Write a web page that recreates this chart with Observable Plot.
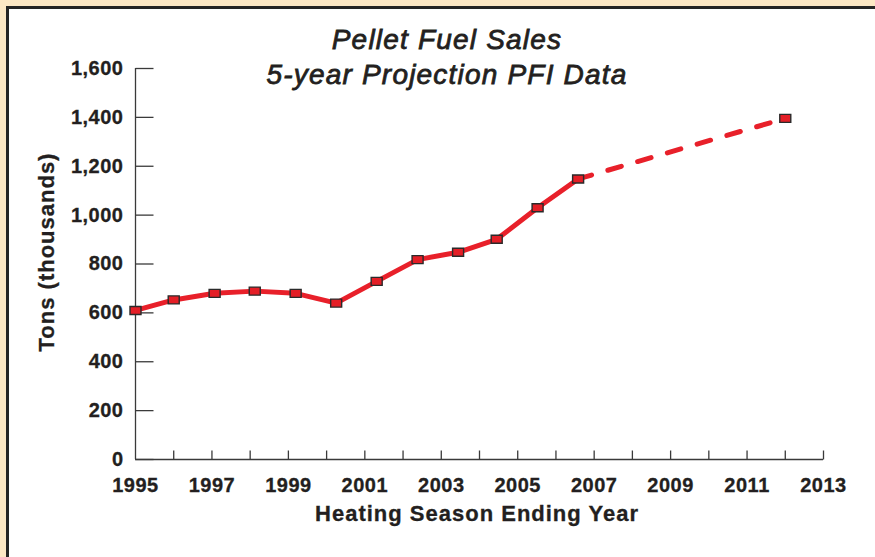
<!DOCTYPE html>
<html>
<head>
<meta charset="utf-8">
<script src="https://cdn.jsdelivr.net/npm/d3@7"></script>
<script src="https://cdn.jsdelivr.net/npm/@observablehq/plot@0.6"></script>
<style>
  html, body { margin: 0; padding: 0; }
  body { width: 875px; height: 557px; overflow: hidden; position: relative; background: #fde8c5; font-family: "Liberation Sans", Arial, sans-serif; }
  #panel { position: absolute; left: 6px; top: 6px; width: 900px; height: 600px; background: #fff; border-left: 3px solid #252525; border-top: 3px solid #252525; }
  #chart { position: absolute; left: 0; top: 0; }
  #chart svg text { font-size: 20px; letter-spacing: 0.5px; stroke: #231f20; stroke-width: 0.3px; }
  .title { position: absolute; left: 0; width: 894px; text-align: center; font-style: italic; font-size: 28px; letter-spacing: 1.2px; color: #231f20; -webkit-text-stroke: 0.8px #231f20; white-space: nowrap; }
  #ytitle { position: absolute; left: 47px; top: 252px; transform: translate(-50%, -50%) rotate(-90deg); font-size: 22px; font-weight: bold; letter-spacing: 1px; color: #231f20; -webkit-text-stroke: 0.3px #231f20; white-space: nowrap; line-height: 1; }
  #xtitle { position: absolute; left: 0; width: 954px; top: 503px; text-align: center; font-size: 22px; font-weight: bold; letter-spacing: 1px; color: #231f20; -webkit-text-stroke: 0.3px #231f20; white-space: nowrap; line-height: 1; }
</style>
</head>
<body>
<div id="panel"></div>
<div id="chart"></div>
<div class="title" style="top:24px">Pellet Fuel Sales</div>
<div class="title" style="top:59px">5-year Projection PFI Data</div>
<div id="ytitle"></div>
<div id="xtitle"></div>
<script>
const actualYears = [1995, 1996, 1997.07, 1998.12, 1999.19, 2000.25, 2001.31, 2002.38, 2003.44, 2004.45, 2005.52, 2006.58];
const actualTons  = [610, 653, 680, 689, 680, 640, 729, 818, 848, 901, 1030, 1148];
// Projection segment
const projYears = [2006.58, 2012];
const projTons  = [1148, 1396];
// Axis ticks
const xLabelYears = [1995, 1997, 1999, 2001, 2003, 2005, 2007, 2009, 2011, 2013];
const xTickYears  = [1996, 1997, 1998, 1999, 2000, 2001, 2002, 2003, 2004, 2005, 2006, 2007, 2008, 2009, 2010, 2011, 2012, 2013];
const yTickValues = [0, 200, 400, 600, 800, 1000, 1200, 1400, 1600];
const xTitle = "Heating Season Ending Year";
const yTitle = "Tons (thousands)";

document.getElementById("ytitle").textContent = yTitle;
document.getElementById("xtitle").textContent = xTitle;

const actual = actualYears.map((x, i) => ({x, y: actualTons[i]}));
const proj = projYears.map((x, i) => ({x, y: projTons[i]}));
const markerPts = actual.concat([proj[proj.length - 1]]);

const RED = "#e8202a";
const INK = "#231f20";
const AX = "#3a3a3a";

const rectSymbol = { draw(ctx) { ctx.moveTo(-5.5, -4); ctx.lineTo(5.5, -4); ctx.lineTo(5.5, 4); ctx.lineTo(-5.5, 4); ctx.closePath(); } };
const hTick = { draw(ctx) { ctx.moveTo(0, 0); ctx.lineTo(18, 0); } };
const vTick = { draw(ctx) { ctx.moveTo(0, 0); ctx.lineTo(0, -9); } };

const chart = Plot.plot({
  width: 875,
  height: 557,
  marginLeft: 135,
  marginRight: 52,
  marginTop: 68,
  marginBottom: 98,
  style: { background: "transparent", fontSize: "20px", fontWeight: "bold", fontFamily: "'Liberation Sans', Arial, sans-serif", color: INK, overflow: "visible" },
  x: { domain: [1995, 2013], ticks: xLabelYears, tickFormat: d => String(d), tickSize: 0, tickPadding: 18, label: null },
  y: { domain: [0, 1600], ticks: yTickValues, tickFormat: d3.format(","), tickSize: 0, tickPadding: 12, label: null },
  marks: [
    Plot.ruleY([0], { stroke: AX, strokeWidth: 1.3 }),
    Plot.ruleX([1995], { stroke: AX, strokeWidth: 1.3 }),
    Plot.dot(yTickValues, { x: () => 1995, y: d => d, symbol: hTick, stroke: AX, strokeWidth: 1.3, fill: "none" }),
    Plot.dot(xTickYears, { x: d => d, y: () => 0, symbol: vTick, stroke: AX, strokeWidth: 1.3, fill: "none" }),
    Plot.line(proj, { x: "x", y: "y", stroke: RED, strokeWidth: 5, strokeDasharray: "14,17", strokeLinecap: "round" }),
    Plot.line(actual, { x: "x", y: "y", stroke: RED, strokeWidth: 5, strokeLinejoin: "round", strokeLinecap: "round" }),
    Plot.dot(markerPts, { x: "x", y: "y", symbol: rectSymbol, fill: "#e41e26", stroke: "#2a2a2a", strokeWidth: 1.4 })
  ]
});
document.getElementById("chart").appendChild(chart);
</script>
</body>
</html>
